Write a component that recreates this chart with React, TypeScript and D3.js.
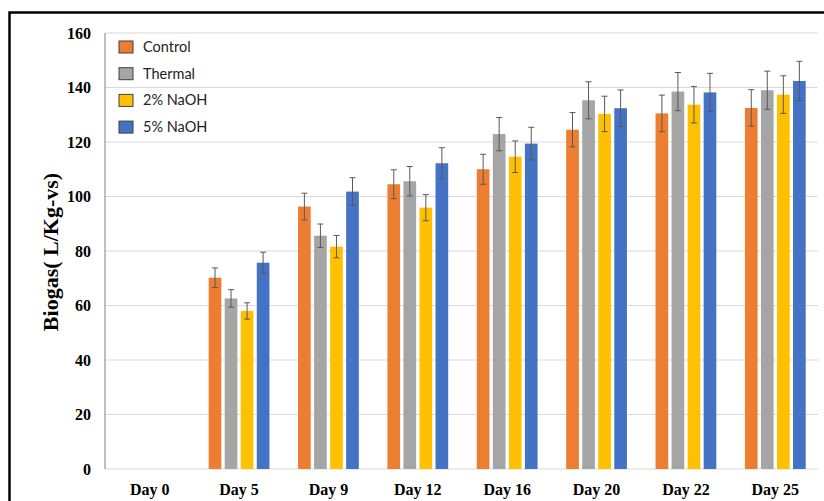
import React from 'react';
import * as d3 from 'd3';

const days = ['Day 0', 'Day 5', 'Day 9', 'Day 12', 'Day 16', 'Day 20', 'Day 22', 'Day 25'];
const seriesNames = ['Control', 'Thermal', '2% NaOH', '5% NaOH'];

const control = [0, 70.2, 96.3, 104.5, 110, 124.5, 130.5, 132.5];
const thermal = [0, 62.6, 85.6, 105.6, 122.9, 135.3, 138.5, 139];
const naoh2 = [0, 58, 81.6, 95.9, 114.6, 130.3, 133.7, 137.4];
const naoh5 = [0, 75.7, 101.8, 112.2, 119.4, 132.4, 138.2, 142.4];

const controlErr = [0, 3.6, 4.9, 5.3, 5.5, 6.3, 6.7, 6.7];
const thermalErr = [0, 3.2, 4.3, 5.4, 6.1, 6.8, 7, 7];
const naoh2Err = [0, 3, 4.1, 4.8, 5.8, 6.5, 6.7, 6.9];
const naoh5Err = [0, 3.85, 5.1, 5.7, 6, 6.7, 7, 7.2];

const yTicks = [0, 20, 40, 60, 80, 100, 120, 140, 160];
const colors = ['#ED7D31', '#A5A5A5', '#FFC000', '#4472C4'];

export default function App() {
  const width = 824;
  const height = 501;
  const plot = { left: 105, right: 820, top: 33, bottom: 469 };

  const values = [control, thermal, naoh2, naoh5];
  const errors = [controlErr, thermalErr, naoh2Err, naoh5Err];

  const x0 = d3.scaleBand<string>()
    .domain(days)
    .range([plot.left, plot.right])
    .paddingInner(0.32)
    .paddingOuter(0.16);

  const x1 = d3.scaleBand<string>()
    .domain(seriesNames)
    .range([0, x0.bandwidth()])
    .paddingInner(0.21);

  const y = d3.scaleLinear().domain([0, 160]).range([plot.bottom, plot.top]);

  const serif = '"Liberation Serif", "Times New Roman", serif';
  const sans = 'Lato, "Noto Sans", sans-serif';

  return (
    <svg width={width} height={height} style={{ position: 'absolute', left: 0, top: 0, background: '#fff' }}>
      <rect x={0} y={0} width={width} height={height} fill="#fff" />

      {/* gridlines */}
      {yTicks.map(t => (
        <line key={t} x1={plot.left} x2={plot.right - 2} y1={y(t)} y2={y(t)} stroke="#D9D9D9" strokeWidth={1} />
      ))}

      {/* y tick labels */}
      {yTicks.map(t => (
        <text key={t} x={91} y={y(t)} dy="0.35em" textAnchor="end" fontFamily={serif} fontWeight="bold" fontSize={16}>
          {t}
        </text>
      ))}

      {/* bars */}
      {seriesNames.map((s, si) => (
        <g key={s}>
          {days.map((d, di) => {
            const v = values[si][di];
            if (v <= 0) return null;
            const bx = (x0(d) as number) + (x1(s) as number);
            return (
              <rect key={d} x={bx} y={y(v)} width={x1.bandwidth()} height={y(0) - y(v)} fill={colors[si]} />
            );
          })}
        </g>
      ))}

      {/* error bars */}
      {seriesNames.map((s, si) => (
        <g key={s} stroke="#595959" strokeWidth={1}>
          {days.map((d, di) => {
            const v = values[si][di];
            const e = errors[si][di];
            if (v <= 0) return null;
            const cx = (x0(d) as number) + (x1(s) as number) + x1.bandwidth() / 2;
            return (
              <g key={d}>
                <line x1={cx} x2={cx} y1={y(v + e)} y2={y(v - e)} />
                <line x1={cx - 3} x2={cx + 3} y1={y(v + e)} y2={y(v + e)} />
                <line x1={cx - 3} x2={cx + 3} y1={y(v - e)} y2={y(v - e)} />
              </g>
            );
          })}
        </g>
      ))}

      {/* y axis line */}
      <line x1={plot.left} x2={plot.left} y1={plot.top} y2={plot.bottom} stroke="#7F7F7F" strokeWidth={1} />

      {/* x labels */}
      {days.map(d => (
        <text key={d} x={(x0(d) as number) + x0.bandwidth() / 2} y={495} textAnchor="middle" fontFamily={serif} fontWeight="bold" fontSize={16}>
          {d}
        </text>
      ))}

      {/* y axis title */}
      <text transform={`translate(58,252) rotate(-90)`} textAnchor="middle" fontFamily={serif} fontWeight="bold" fontSize={22}>
        Biogas( L/Kg-vs)
      </text>

      {/* legend */}
      {seriesNames.map((s, i) => (
        <g key={s} transform={`translate(119,${41 + i * 26.7})`}>
          <rect x={0} y={0} width={14} height={12} fill={colors[i]} stroke="#404040" strokeWidth={1} />
          <text x={24} y={6} dy="0.35em" fontFamily={sans} fontSize={14.5} fill="#222">
            {s}
          </text>
        </g>
      ))}

      {/* frame */}
      <rect x={9.5} y={12.5} width={830} height={500} fill="none" stroke="#000" strokeWidth={2.5} />
    </svg>
  );
}
